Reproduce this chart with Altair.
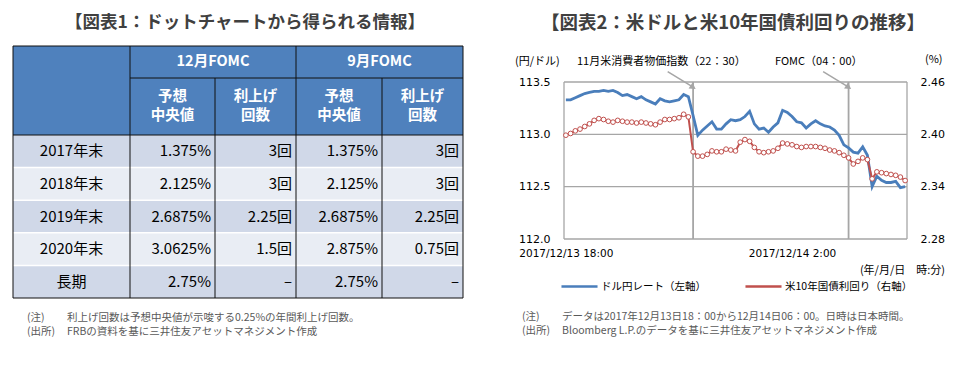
import altair as alt
import pandas as pd

FONT = "Noto Sans CJK JP"
NUMFONT = "DejaVu Sans"

# ---------------- data ----------------
title_left = "【図表1：ドットチャートから得られる情報】"
title_right = "【図表2：米ドルと米10年国債利回りの推移】"

group_headers = ["12月FOMC", "9月FOMC"]
sub_headers = [["予想", "中央値"], ["利上げ", "回数"], ["予想", "中央値"], ["利上げ", "回数"]]
row_labels = ["2017年末", "2018年末", "2019年末", "2020年末", "長期"]
dec_median = ["1.375%", "2.125%", "2.6875%", "3.0625%", "2.75%"]
dec_hikes = ["3回", "3回", "2.25回", "1.5回", "–"]
sep_median = ["1.375%", "2.125%", "2.6875%", "2.875%", "2.75%"]
sep_hikes = ["3回", "3回", "2.25回", "0.75回", "–"]

notes_left = [("(注)", "利上げ回数は予想中央値が示唆する0.25%の年間利上げ回数。"),
              ("(出所)", "FRBの資料を基に三井住友アセットマネジメント作成")]
notes_right = [("(注)", "データは2017年12月13日18：00から12月14日06：00。日時は日本時間。"),
               ("(出所)", "Bloomberg L.P.のデータを基に三井住友アセットマネジメント作成")]

series_names = ["ドル円レート（左軸）", "米10年国債利回り（右軸）"]
times = list(pd.date_range("2017-12-13 18:00", "2017-12-14 06:00", freq="10min").strftime("%Y-%m-%dT%H:%M:00Z"))
usdjpy = [113.33, 113.33, 113.35, 113.37, 113.39, 113.40, 113.41, 113.41, 113.42, 113.41,
          113.42, 113.40, 113.37, 113.38, 113.36, 113.34, 113.36, 113.33, 113.31, 113.29,
          113.34, 113.32, 113.31, 113.32, 113.33, 113.38, 113.36, 113.18, 112.99, 113.04,
          113.08, 113.12, 113.05, 113.05, 113.10, 113.14, 113.13, 113.14, 113.17, 113.22,
          113.10, 113.05, 113.06, 113.02, 113.07, 113.11, 113.23, 113.21, 113.17, 113.12,
          113.11, 113.06, 113.10, 113.13, 113.10, 113.08, 113.07, 113.04, 112.99, 112.90,
          112.87, 112.83, 112.82, 112.88, 112.80, 112.50, 112.60, 112.56, 112.54, 112.54,
          112.55, 112.49, 112.50]
ust10y = [2.399, 2.401, 2.404, 2.406, 2.409, 2.412, 2.416, 2.418, 2.417, 2.415,
          2.414, 2.416, 2.415, 2.414, 2.414, 2.413, 2.414, 2.413, 2.412, 2.411,
          2.414, 2.417, 2.417, 2.418, 2.419, 2.423, 2.420, 2.380, 2.375, 2.375,
          2.377, 2.381, 2.380, 2.380, 2.383, 2.382, 2.381, 2.391, 2.394, 2.392,
          2.385, 2.380, 2.379, 2.380, 2.381, 2.384, 2.390, 2.389, 2.388, 2.386,
          2.385, 2.386, 2.386, 2.386, 2.385, 2.384, 2.382, 2.381, 2.379, 2.376,
          2.373, 2.366, 2.369, 2.373, 2.371, 2.349, 2.357, 2.356, 2.355, 2.354,
          2.353, 2.351, 2.347]
event_times = ["2017-12-13T22:30:00Z", "2017-12-14T04:00:00Z"]
event_labels = ["11月米消費者物価指数（22：30）", "FOMC（04：00）"]
arrow_starts = ["2017-12-13T21:36:00Z", "2017-12-14T03:06:00Z"]
plot_span = ["2017-12-13T17:56:00Z", "2017-12-14T06:04:00Z"]
left_ticks = [112.0, 112.5, 113.0, 113.5]
right_ticks = [2.28, 2.34, 2.40, 2.46]

# ---------------- styles ----------------
HEAD_BLUE = "#4F81BD"
ROW_DARK = "#D0D8E8"
ROW_LIGHT = "#E9EDF4"
LINE_BLUE = "#4A7EBB"
LINE_RED = "#C0504D"
GRAY = "#A6A6A6"
TITLE_C = "#404040"
NOTE_C = "#595959"

WL, WR, H = 480, 479, 356

# ---------------- left: table ----------------
col_w = [117, 85, 81, 86, 81]
tbl_x0, tbl_y0 = 5, 38
head_h = [32, 57]
body_h = 32.6
xe = [tbl_x0]
for w in col_w:
    xe.append(xe[-1] + w)
ye = [tbl_y0, tbl_y0 + head_h[0], tbl_y0 + head_h[0] + head_h[1]]
for _ in row_labels:
    ye.append(ye[-1] + body_h)

lx = alt.Scale(domain=[0, WL], range=[0, WL], nice=False, zero=False)
ly = alt.Scale(domain=[0, H], range=[0, H], nice=False, zero=False)

rects = [dict(x0=xe[0], x1=xe[5], y0=ye[0], y1=ye[2], fill=HEAD_BLUE)]
for r in range(len(row_labels)):
    rects.append(dict(x0=xe[0], x1=xe[5], y0=ye[2 + r], y1=ye[3 + r],
                      fill=ROW_DARK if r % 2 == 0 else ROW_LIGHT))
rect_layer = alt.Chart(pd.DataFrame(rects)).mark_rect().encode(
    x=alt.X("x0:Q", scale=lx, axis=None), x2="x1:Q",
    y=alt.Y("y0:Q", scale=ly, axis=None), y2="y1:Q",
    fill=alt.Fill("fill:N", scale=None))

white_sep = [dict(x0=xe[0], x1=xe[5], y0=ye[k], y1=ye[k]) for k in range(3, 7)]
white_layer = alt.Chart(pd.DataFrame(white_sep)).mark_rule(color="white", strokeWidth=1.5).encode(
    x=alt.X("x0:Q", scale=lx, axis=None), x2="x1:Q",
    y=alt.Y("y0:Q", scale=ly, axis=None), y2="y1:Q")

black = []
for k, xv in enumerate(xe):
    top = ye[1] if k in (2, 4) else ye[0]
    black.append(dict(x0=xv, x1=xv, y0=top, y1=ye[-1]))
black.append(dict(x0=xe[0], x1=xe[5], y0=ye[0], y1=ye[0]))
black.append(dict(x0=xe[1], x1=xe[5], y0=ye[1], y1=ye[1]))
black.append(dict(x0=xe[0], x1=xe[5], y0=ye[2], y1=ye[2]))
black.append(dict(x0=xe[0], x1=xe[5], y0=ye[-1], y1=ye[-1]))
black_layer = alt.Chart(pd.DataFrame(black)).mark_rule(color="#111111", strokeWidth=1).encode(
    x=alt.X("x0:Q", scale=lx, axis=None), x2="x1:Q",
    y=alt.Y("y0:Q", scale=ly, axis=None), y2="y1:Q")

head_txt = []
for g, name in enumerate(group_headers):
    head_txt.append(dict(x=(xe[1 + 2 * g] + xe[3 + 2 * g]) / 2, y=(ye[0] + ye[1]) / 2, s=name))
for c, lines in enumerate(sub_headers):
    cx = (xe[1 + c] + xe[2 + c]) / 2
    mid = (ye[1] + ye[2]) / 2
    head_txt.append(dict(x=cx, y=mid - 9.5, s=lines[0]))
    head_txt.append(dict(x=cx, y=mid + 9.5, s=lines[1]))
head_layer = alt.Chart(pd.DataFrame(head_txt)).mark_text(
    font=FONT, fontSize=14.5, fontWeight="bold", color="white", align="center", baseline="middle").encode(
    x=alt.X("x:Q", scale=lx, axis=None), y=alt.Y("y:Q", scale=ly, axis=None), text="s:N")

lab_txt = [dict(x=(xe[0] + xe[1]) / 2, y=(ye[2 + r] + ye[3 + r]) / 2, s=s) for r, s in enumerate(row_labels)]
lab_layer = alt.Chart(pd.DataFrame(lab_txt)).mark_text(
    font=FONT, fontSize=15, color="#000000", align="center", baseline="middle").encode(
    x=alt.X("x:Q", scale=lx, axis=None), y=alt.Y("y:Q", scale=ly, axis=None), text="s:N")

val_txt = []
for c, col in enumerate([dec_median, dec_hikes, sep_median, sep_hikes]):
    for r, s in enumerate(col):
        val_txt.append(dict(x=xe[2 + c] - 4, y=(ye[2 + r] + ye[3 + r]) / 2, s=s))
val_layer = alt.Chart(pd.DataFrame(val_txt)).mark_text(
    font=FONT, fontSize=15, color="#000000", align="right", baseline="middle").encode(
    x=alt.X("x:Q", scale=lx, axis=None), y=alt.Y("y:Q", scale=ly, axis=None), text="s:N")

ttl_left = alt.Chart(pd.DataFrame([dict(x=237, y=15, s=title_left)])).mark_text(
    font=FONT, fontSize=17.5, fontWeight="bold", color=TITLE_C, align="center", baseline="middle").encode(
    x=alt.X("x:Q", scale=lx, axis=None), y=alt.Y("y:Q", scale=ly, axis=None), text="s:N")

note_rows = []
for i, (a, b) in enumerate(notes_left):
    note_rows.append(dict(x=19, y=310 + 14 * i, s=a))
    note_rows.append(dict(x=59, y=310 + 14 * i, s=b))
note_left_layer = alt.Chart(pd.DataFrame(note_rows)).mark_text(
    font=FONT, fontSize=10.5, color=NOTE_C, align="left", baseline="middle").encode(
    x=alt.X("x:Q", scale=lx, axis=None), y=alt.Y("y:Q", scale=ly, axis=None), text="s:N")

left = alt.layer(rect_layer, white_layer, black_layer, head_layer, lab_layer, val_layer,
                 ttl_left, note_left_layer).properties(width=WL, height=H)

# ---------------- right: line chart ----------------
def dt(d, h, m):
    return alt.DateTime(year=2017, month=12, date=d, hours=h, minutes=m, utc=True)

xscale = alt.Scale(type="utc", domain=[dt(13, 17, 56), dt(14, 6, 4)], range=[76, 419], nice=False)
xaxis = alt.Axis(values=[dt(13, 18, 0), dt(14, 2, 0)],
                 labelExpr="utcFormat(datum.value, '%Y/%m/%d %-H:%M')",
                 offset=-125, labelPadding=9, ticks=False, domain=False, grid=False, title=None,
                 labelFont=NUMFONT, labelFontSize=10.5, labelColor="#000000", labelFlush=False)
ysl = alt.Scale(domain=[112.0, 113.5], range=[231, 74], nice=False, zero=False)
ysr = alt.Scale(domain=[2.28, 2.46], range=[231, 74], nice=False, zero=False)
yal = alt.Axis(orient="left", values=left_ticks, format=".1f", offset=-76, labelPadding=14,
               ticks=False, domain=False, grid=False, title=None,
               labelFont=NUMFONT, labelFontSize=11, labelColor="#000000")
yar = alt.Axis(orient="right", values=right_ticks, format=".2f", offset=-60, labelPadding=13,
               ticks=False, domain=False, grid=False, title=None,
               labelFont=NUMFONT, labelFontSize=11, labelColor="#000000")
legend = alt.Legend(orient="none", legendX=552, legendY=259, direction="horizontal", title=None,
                    symbolType="stroke", symbolSize=1300, symbolStrokeWidth=2.5, labelFont=FONT,
                    labelFontSize=10.5, labelColor="#000000", columnPadding=34, labelOffset=2, padding=0)
cscale = alt.Scale(domain=series_names, range=[LINE_BLUE, LINE_RED])


def XL(f):
    return alt.X(f"{f}:T", scale=xscale, axis=xaxis)


def YL(f):
    return alt.Y(f"{f}:Q", scale=ysl, axis=yal)


def YR(f):
    return alt.Y(f"{f}:Q", scale=ysr, axis=yar)


hgrid = alt.Chart(pd.DataFrame({"t0": [plot_span[0]] * 4, "t1": [plot_span[1]] * 4,
                                "v": left_ticks})).mark_rule(color=GRAY, strokeWidth=1.3).encode(
    x=XL("t0"), x2="t1:T", y=YL("v"))
vborder = alt.Chart(pd.DataFrame({"t": plot_span, "v0": [112.0] * 2, "v1": [113.5] * 2})).mark_rule(
    color=GRAY, strokeWidth=1.3).encode(x=XL("t"), y=YL("v0"), y2="v1:Q")
events = alt.Chart(pd.DataFrame({"t": event_times, "v0": [112.0] * 2, "v1": [113.5] * 2})).mark_rule(
    color=GRAY, strokeWidth=1.8).encode(x=XL("t"), y=YL("v0"), y2="v1:Q")
arrows_df = pd.DataFrame({"t0": arrow_starts, "t1": event_times, "v0": [113.60] * 2, "v1": [113.45] * 2})
arrows = alt.Chart(arrows_df).mark_rule(color=GRAY, strokeWidth=1.5).encode(
    x=XL("t0"), x2="t1:T", y=YL("v0"), y2="v1:Q")
heads = alt.Chart(arrows_df).mark_point(shape="triangle-right", angle=34, filled=True, color=GRAY,
                                        size=50, opacity=1).encode(x=XL("t1"), y=YL("v1"))
fx_df = pd.DataFrame({"t": times, "v": usdjpy, "series": series_names[0]})
blue = alt.Chart(fx_df).mark_line(strokeWidth=2.8).encode(
    x=XL("t"), y=YL("v"), color=alt.Color("series:N", scale=cscale, legend=legend))


def label(text, x, y, size=11, align="left", bold=False, color="#000000", font=FONT):
    return alt.Chart(pd.DataFrame({"s": [text]})).mark_text(
        align=align, baseline="middle", font=font, fontSize=size,
        fontWeight="bold" if bold else "normal", color=color).encode(
        x=alt.value(x), y=alt.value(y), text="s:N")


texts = [
    label(title_right, 245, 15, size=18.5, align="center", bold=True, color=TITLE_C),
    label("(円/ドル)", 27, 54),
    label(event_labels[0], 89, 54),
    label(event_labels[1], 287, 54),
    label("(%)", 437, 52),
    label("(年/月/日　時:分)", 457, 263, align="right"),
]
for i, (a, b) in enumerate(notes_right):
    texts.append(label(a, 34, 309 + 14 * i, size=10.5, color=NOTE_C))
    texts.append(label(b, 74, 309 + 14 * i, size=10.5, color=NOTE_C))

left_group = alt.layer(hgrid, vborder, events, arrows, heads, blue, *texts)

ust_df = pd.DataFrame({"t": times, "v": ust10y, "series": series_names[1]})
red_line = alt.Chart(ust_df).mark_line(strokeWidth=2).encode(
    x=XL("t"), y=YR("v"), color=alt.Color("series:N", scale=cscale, legend=legend))
red_pts = alt.Chart(ust_df).mark_point(shape="circle", fill="white", stroke=LINE_RED, strokeWidth=1,
                                       size=22, opacity=1).encode(x=XL("t"), y=YR("v"))
right_group = alt.layer(red_line, red_pts)

right = alt.layer(left_group, right_group).resolve_scale(y="independent").properties(width=WR, height=H)

chart = alt.hconcat(left, right, spacing=0, bounds="flush").properties(padding=0).configure_view(stroke=None)

chart.save("out.html", embed_options={"renderer": "svg", "actions": False})
